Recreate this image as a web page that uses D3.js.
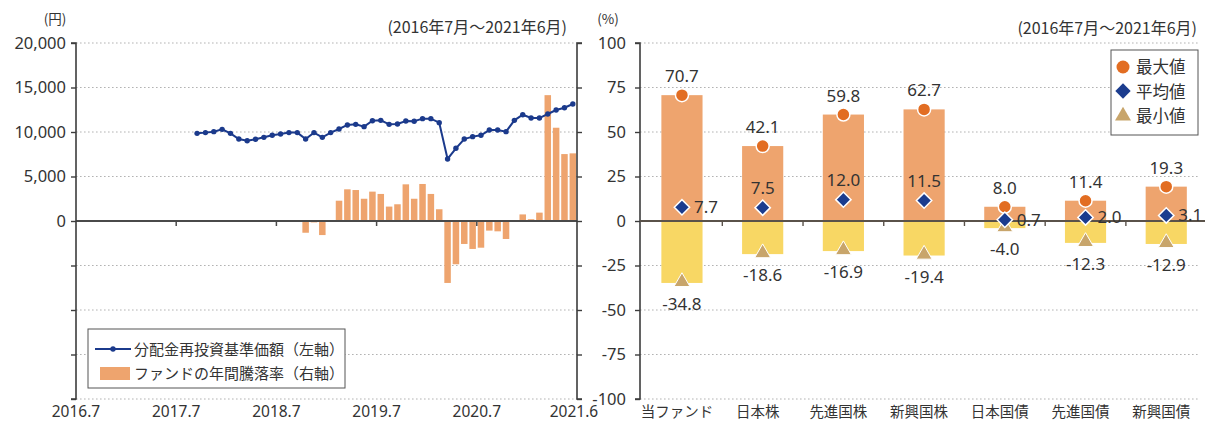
<!DOCTYPE html>
<html><head><meta charset="utf-8">
<script src="https://cdn.jsdelivr.net/npm/d3@7"></script>
<style>
html,body{margin:0;padding:0;background:#fff;}
svg{display:block;font-family:"Noto Sans CJK JP","Noto Sans",sans-serif;}
</style></head>
<body>
<svg id="chart" width="1205" height="424"></svg>
<script>
// ---------------- DATA ----------------
const monthStart = "2016.7";         // first month on the left x axis
const monthEnd = "2021.6";           // last month on the left x axis
const xTickLabels = ["2016.7","2017.7","2018.7","2019.7","2020.7","2021.6"];
const yLeftTicks = [20000,15000,10000,5000,0,-5000,-10000,-15000,-20000];
const yLeftLabels = [20000,15000,10000,5000,0];
const yPctTicks = [100,75,50,25,0,-25,-50,-75,-100];

const navStart = "2017.9";           // first month of NAV series
const navValues = [9850,9930,10040,10300,9850,9210,9020,9180,9400,9630,9780,9930,9930,9210,
  9930,9400,9930,10340,10790,10860,10600,11270,11310,10860,10900,11240,11200,11500,11500,11050,
  6970,8170,9210,9480,9630,10220,10220,10040,11310,11940,11570,11570,12020,12470,12730,13150];

const retStart = "2018.10";          // first month of 1-year return series
const retValues = [-6.6,-0.8,-7.9,0,11.4,17.8,17.4,12.5,16.5,15.2,8.1,9.4,20.6,12.5,20.8,15.2,6.6,
  -34.8,-24.3,-12.9,-15.7,-15.0,-5.4,-5.8,-10.1,0.3,3.7,1.0,4.7,70.7,52.4,37.6,38.0];

const categories = ["当ファンド","日本株","先進国株","新興国株","日本国債","先進国債","新興国債"];
const maxValues = [70.7,42.1,59.8,62.7,8.0,11.4,19.3];
const avgValues = [7.7,7.5,12.0,11.5,0.7,2.0,3.1];
const minValues = [-34.8,-18.6,-16.9,-19.4,-4.0,-12.3,-12.9];
const avgLabelSide = ["right","top","top","top","right","right","right"];

const legendLeft = ["分配金再投資基準価額（左軸）","ファンドの年間騰落率（右軸）"];
const legendRight = ["最大値","平均値","最小値"];
const periodText = "(2016年7月～2021年6月)";

// ---------------- HELPERS ----------------
function monthSeq(a,b){
  const [ay,am]=a.split(".").map(Number), [by,bm]=b.split(".").map(Number);
  const out=[]; let y=ay,m=am;
  while(y<by||(y===by&&m<=bm)){ out.push(y+"."+m); m++; if(m>12){m=1;y++;} }
  return out;
}
const months = monthSeq(monthStart, monthEnd);
const navMonths = monthSeq(navStart, monthEnd).slice(0, navValues.length);
const retMonths = monthSeq(retStart, monthEnd).slice(0, retValues.length);
const navData = navValues.map((v,i)=>({m:navMonths[i],v}));
const retData = retValues.map((v,i)=>({m:retMonths[i],v}));
const hy = s => String(s).replace("\u2212","-");
const f1 = d => hy(d3.format(".1f")(d));

const C = {
  text:"#333", axis:"#3d3d3d", grid:"#b3b3b3", zero:"#4a4a4a",
  line:"#1b3a8c", barUp:"#eea46e", barDown:"#f8d764",
  maxDot:"#e26d22", avg:"#1b3c8e", minTri:"#c8a56b"
};

const svg = d3.select("#chart");
const topY = 43, botY = 399;
const lx0 = 76, lx1 = 577;
const rx0 = 640, rxEnd = 1200;

const yL = d3.scaleLinear().domain([-20000,20000]).range([botY,topY]);
const yP = d3.scaleLinear().domain([-100,100]).range([botY,topY]);
const xM = d3.scaleBand().domain(months).range([lx0,lx1]).paddingInner(0.22).paddingOuter(0.11);
const xC = d3.scaleBand().domain(categories).range([641.6,1206.6]).paddingInner(0.49).paddingOuter(0.245);

// ---------------- GRID ----------------
const grid = svg.append("g");
grid.selectAll("line.gl").data(yLeftTicks.filter(d=>d!==0)).join("line")
  .attr("x1",lx0).attr("x2",lx1).attr("y1",d=>yL(d)).attr("y2",d=>yL(d))
  .attr("stroke",C.grid).attr("stroke-width",1).attr("stroke-dasharray","1.6,2.4");
grid.selectAll("line.gr").data(yPctTicks.filter(d=>d!==0)).join("line")
  .attr("x1",rx0).attr("x2",rxEnd).attr("y1",d=>yP(d)).attr("y2",d=>yP(d))
  .attr("stroke",C.grid).attr("stroke-width",1).attr("stroke-dasharray","1.6,2.4");

// ---------------- LEFT CHART ----------------
svg.append("g").selectAll("rect").data(retData).join("rect")
  .attr("x",d=>xM(d.m)).attr("width",xM.bandwidth())
  .attr("y",d=>yP(Math.max(0,d.v))).attr("height",d=>Math.abs(yP(d.v)-yP(0)))
  .attr("fill",C.barUp);

svg.append("line").attr("x1",lx0).attr("x2",lx1).attr("y1",yL(0)).attr("y2",yL(0))
  .attr("stroke",C.zero).attr("stroke-width",2);
const yearTickMonths = xTickLabels.slice(1,-1);
const mEdge = d => xM(d)-xM.step()*xM.paddingInner()/2;
svg.append("g").selectAll("line").data(yearTickMonths).join("line")
  .attr("x1",mEdge).attr("x2",mEdge)
  .attr("y1",yL(0)).attr("y2",yL(0)+5).attr("stroke",C.zero).attr("stroke-width",1.5);

const lineGen = d3.line().x(d=>xM(d.m)+xM.bandwidth()/2).y(d=>yL(d.v));
svg.append("path").datum(navData).attr("d",lineGen)
  .attr("fill","none").attr("stroke",C.line).attr("stroke-width",2);
svg.append("g").selectAll("circle").data(navData).join("circle")
  .attr("cx",d=>xM(d.m)+xM.bandwidth()/2).attr("cy",d=>yL(d.v)).attr("r",2.7)
  .attr("fill",C.line);

const axL = d3.axisLeft(yL).tickValues(yLeftTicks).tickSize(5)
  .tickFormat(d=>yLeftLabels.includes(d)?d3.format(",")(d):"");
const gL = svg.append("g").attr("transform",`translate(${lx0},0)`).call(axL);
const axLR = d3.axisRight(yP).tickValues(yPctTicks).tickSize(5).tickFormat("");
const gLR = svg.append("g").attr("transform",`translate(${lx1},0)`).call(axLR);
const axR = d3.axisLeft(yP).tickValues(yPctTicks).tickSize(5).tickFormat(d=>hy(d3.format("d")(d)));
const gR = svg.append("g").attr("transform",`translate(${rx0},0)`).call(axR);
[gL,gLR,gR].forEach(g=>{
  g.select(".domain").attr("stroke",C.axis).attr("stroke-width",1.6)
    .attr("d", g===gLR ? `M5,${topY}H0V${botY}H5` : `M-5,${topY}H0V${botY}H-5`);
  g.selectAll(".tick line").attr("stroke",C.axis).attr("stroke-width",1.4);
  g.selectAll(".tick text").attr("fill",C.text).style("font-size","16.5px")
    .style("font-family","'Noto Sans','DejaVu Sans',sans-serif");
});
gL.selectAll(".tick text").attr("x",-10);
gR.selectAll(".tick text").attr("x",-14);

svg.append("g").selectAll("text").data(xTickLabels).join("text")
  .attr("x",(d,i)=> i===xTickLabels.length-1 ? lx1-3 : mEdge(d))
  .attr("y",417).attr("text-anchor","middle").attr("fill",C.text)
  .style("font-size","15.5px").style("font-family","'Noto Sans',sans-serif").text(d=>d);

svg.append("text").attr("x",55).attr("y",24).attr("text-anchor","middle").attr("fill",C.text)
  .style("font-size","13.5px").text("(円)");
svg.append("text").attr("x",608).attr("y",24).attr("text-anchor","middle").attr("fill",C.text)
  .style("font-size","13.5px").text("(%)");
svg.append("text").attr("x",567).attr("y",33).attr("text-anchor","end").attr("fill",C.text)
  .style("font-size","16px").text(periodText);
svg.append("text").attr("x",1197).attr("y",34).attr("text-anchor","end").attr("fill",C.text)
  .style("font-size","16px").text(periodText);

const lg = svg.append("g");
lg.append("rect").attr("x",88).attr("y",329).attr("width",257).attr("height",59)
  .attr("fill","#fff").attr("stroke","#555").attr("stroke-width",1);
lg.append("line").attr("x1",95).attr("x2",131).attr("y1",349).attr("y2",349)
  .attr("stroke",C.line).attr("stroke-width",2);
lg.append("circle").attr("cx",113).attr("cy",349).attr("r",2.7).attr("fill",C.line);
lg.append("rect").attr("x",100).attr("y",367).attr("width",30).attr("height",13).attr("fill",C.barUp);
lg.selectAll("text").data(legendLeft).join("text")
  .attr("x",134).attr("y",(d,i)=>354.5+i*24).attr("fill",C.text)
  .style("font-size","15px").text(d=>d);

// ---------------- RIGHT CHART ----------------
const cx = c => xC(c)+xC.bandwidth()/2;
const rows = categories.map((c,i)=>({c,max:maxValues[i],avg:avgValues[i],min:minValues[i],side:avgLabelSide[i]}));
svg.append("g").selectAll("rect").data(rows).join("rect")
  .attr("x",d=>xC(d.c)).attr("width",xC.bandwidth())
  .attr("y",d=>yP(d.max)).attr("height",d=>yP(0)-yP(d.max)).attr("fill",C.barUp);
svg.append("g").selectAll("rect").data(rows).join("rect")
  .attr("x",d=>xC(d.c)).attr("width",xC.bandwidth())
  .attr("y",yP(0)).attr("height",d=>yP(d.min)-yP(0)).attr("fill",C.barDown);

svg.append("line").attr("x1",rx0).attr("x2",rxEnd+5).attr("y1",yP(0)).attr("y2",yP(0))
  .attr("stroke","#5a524a").attr("stroke-width",2);
const cEdge = d => xC(d)-xC.step()*xC.paddingInner()/2;
svg.append("g").selectAll("line").data(categories.slice(1)).join("line")
  .attr("x1",cEdge).attr("x2",cEdge)
  .attr("y1",yP(0)).attr("y2",yP(0)+5).attr("stroke","#5a524a").attr("stroke-width",1.4);

const sym = (type,size)=>d3.symbol().type(type).size(size)();
svg.append("g").selectAll("circle").data(rows).join("circle")
  .attr("cx",d=>cx(d.c)).attr("cy",d=>yP(d.max)).attr("r",6.5)
  .attr("fill",C.maxDot).attr("stroke","#fff").attr("stroke-width",1.5);
svg.append("g").selectAll("path").data(rows).join("path")
  .attr("transform",d=>`translate(${cx(d.c)},${yP(d.min)-1})`).attr("d",sym(d3.symbolTriangle,110))
  .attr("fill",C.minTri).attr("stroke","#fff").attr("stroke-width",1);
svg.append("g").selectAll("path").data(rows).join("path")
  .attr("transform",d=>`translate(${cx(d.c)},${yP(d.avg)})`).attr("d",sym(d3.symbolDiamond2,150))
  .attr("fill",C.avg).attr("stroke","#fff").attr("stroke-width",1.5);

const lab = svg.append("g").style("font-family","'Noto Sans',sans-serif").style("font-size","17px").attr("fill",C.text);
lab.selectAll("text.mx").data(rows).join("text")
  .attr("x",d=>cx(d.c)).attr("y",d=>yP(d.max)-13).attr("text-anchor","middle").text(d=>f1(d.max));
lab.selectAll("text.mn").data(rows).join("text")
  .attr("x",d=>cx(d.c)).attr("y",d=>yP(d.min)+27).attr("text-anchor","middle").text(d=>f1(d.min));
lab.selectAll("text.av").data(rows).join("text")
  .attr("x",d=>d.side==="right"?cx(d.c)+12:cx(d.c))
  .attr("y",d=>d.side==="right"?yP(d.avg)+6:yP(d.avg)-14)
  .attr("text-anchor",d=>d.side==="right"?"start":"middle").text(d=>f1(d.avg));

svg.append("g").selectAll("text").data(categories).join("text")
  .attr("x",d=>cx(d)-5).attr("y",417).attr("text-anchor","middle").attr("fill",C.text)
  .style("font-size","14.5px").text(d=>d);

const rg = svg.append("g");
rg.append("rect").attr("x",1111).attr("y",50).attr("width",87).attr("height",85)
  .attr("fill","#fff").attr("stroke","#555").attr("stroke-width",1);
rg.append("circle").attr("cx",1123).attr("cy",67).attr("r",6.5).attr("fill",C.maxDot);
rg.append("path").attr("transform","translate(1123,91)").attr("d",sym(d3.symbolDiamond2,150)).attr("fill",C.avg);
rg.append("path").attr("transform","translate(1123,116)").attr("d",sym(d3.symbolTriangle,110)).attr("fill",C.minTri);
rg.selectAll("text").data(legendRight).join("text")
  .attr("x",1136).attr("y",(d,i)=>73+i*24.5).attr("fill",C.text)
  .style("font-size","16.5px").text(d=>d);
</script>
</body></html>
